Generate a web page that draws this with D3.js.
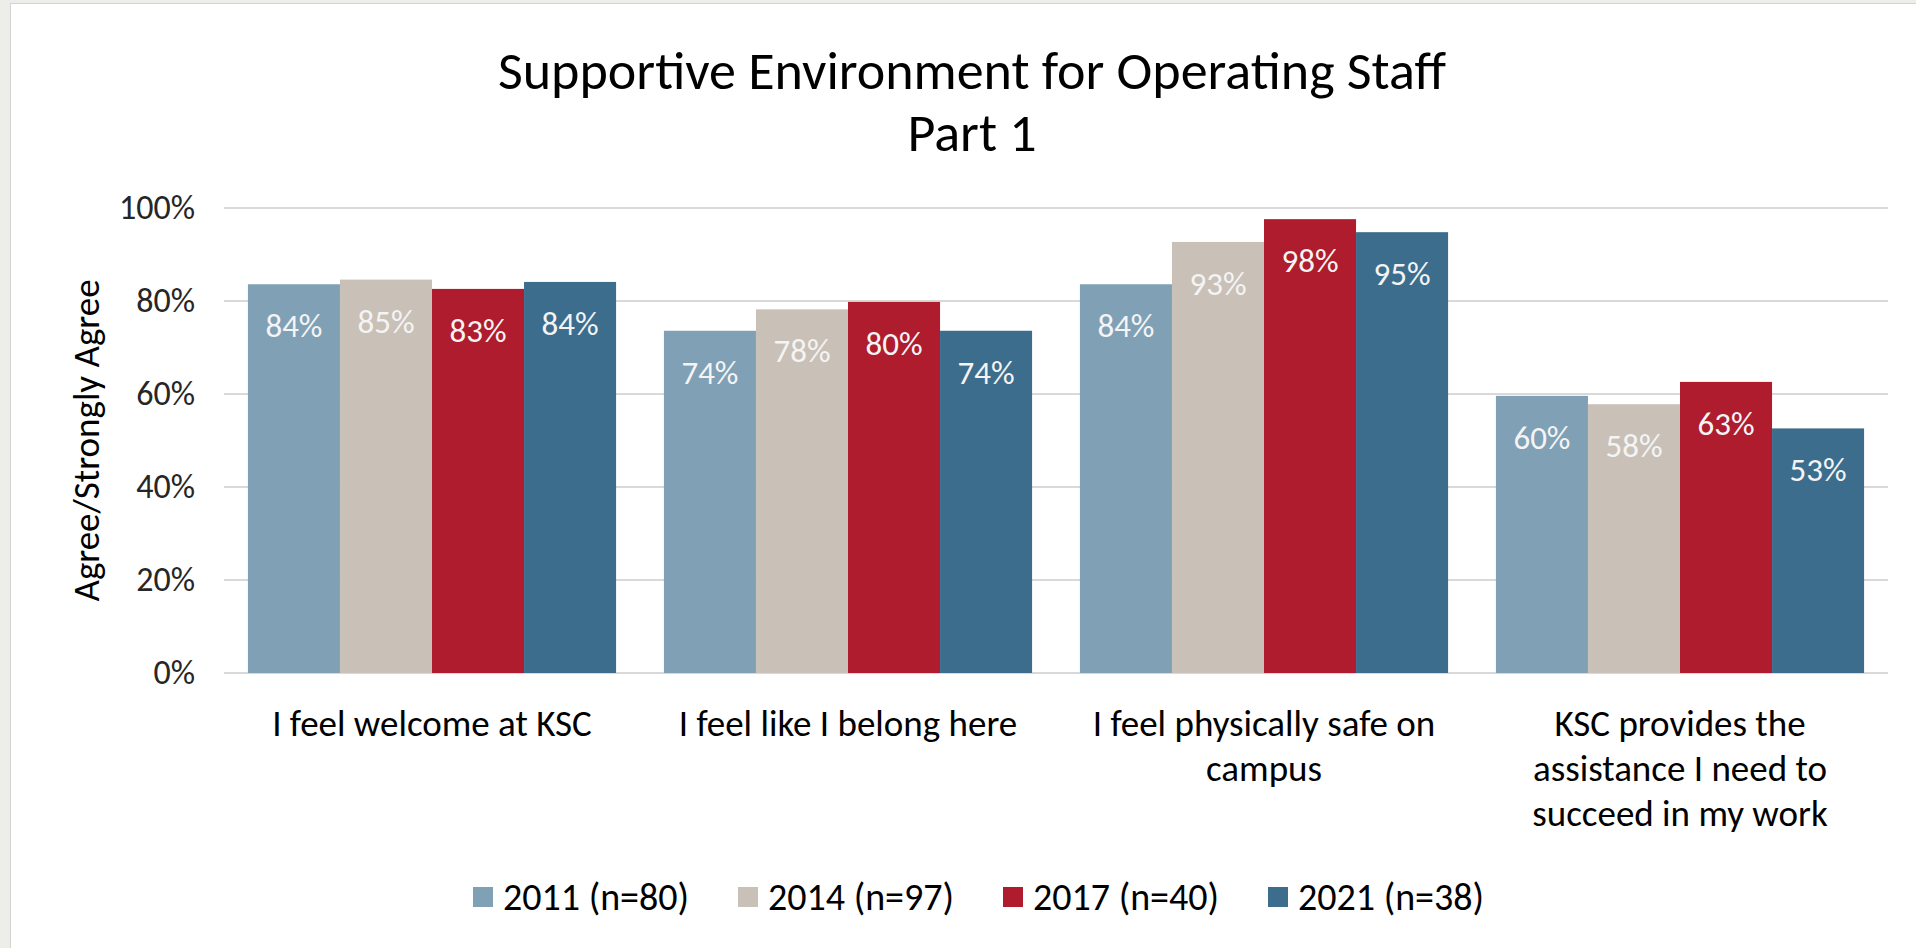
<!DOCTYPE html>
<html>
<head>
<meta charset="utf-8">
<script src="https://cdn.jsdelivr.net/npm/d3@7"></script>
<style>
  html, body { margin: 0; padding: 0; background: #ededea; }
  svg { display: block; }
</style>
</head>
<body>
<div id="chart"></div>
<script>
// data
const categories = [
    ["I feel welcome at KSC"],
    ["I feel like I belong here"],
    ["I feel physically safe on", "campus"],
    ["KSC provides the", "assistance I need to", "succeed in my work"]
];
const seriesNames = ["2011 (n=80)", "2014 (n=97)", "2017 (n=40)", "2021 (n=38)"];
const values2011 = [0.836, 0.736, 0.836, 0.596];
const values2014 = [0.846, 0.782, 0.927, 0.578];
const values2017 = [0.826, 0.798, 0.976, 0.626];
const values2021 = [0.841, 0.736, 0.948, 0.526];
const yTicks = [0, 0.2, 0.4, 0.6, 0.8, 1.0];
const colors = ["#80a0b6", "#c9c0b7", "#ae1c2d", "#3c6d8d"];

const series = [values2011, values2014, values2017, values2021];
const catKeys = categories.map(c => c.join(" "));

const W = 1916, H = 948;
const font = "Carlito, Calibri, Lato, sans-serif";
const plot = {left: 224, right: 1888, top: 208, bottom: 673};

const svg = d3.select("#chart").append("svg")
    .attr("width", W)
    .attr("height", H);

// white chart area
svg.append("rect")
    .attr("x", 10.5).attr("y", 3.5)
    .attr("width", W).attr("height", H)
    .attr("fill", "#fff")
    .attr("stroke", "#d4d4d0");

const x0 = d3.scaleBand()
    .domain(catKeys)
    .range([plot.left, plot.right]);

const gap = x0.step() * 0.0575;
const x1 = d3.scaleBand()
    .domain(seriesNames)
    .range([gap, x0.bandwidth() - gap]);

const y = d3.scaleLinear()
    .domain([0, 1])
    .range([plot.bottom, plot.top]);

// gridlines
svg.append("g")
    .selectAll("line")
    .data(yTicks)
    .enter()
    .append("line")
    .attr("x1", plot.left)
    .attr("x2", plot.right)
    .attr("y1", d => y(d))
    .attr("y2", d => y(d))
    .attr("stroke", "#d9d9d9")
    .attr("stroke-width", 2);

// y axis labels
const yAxis = svg.append("g")
    .attr("transform", `translate(${plot.left - 29},0)`)
    .call(d3.axisLeft(y).tickValues(yTicks).tickFormat(d3.format(".0%")).tickSize(0).tickPadding(0));
yAxis.select(".domain").remove();
yAxis.selectAll("text")
    .style("font-family", font)
    .style("font-size", "34px")
    .attr("fill", "#262626");

svg.append("text")
    .attr("transform", `translate(86,${(plot.top + plot.bottom) / 2}) rotate(-90)`)
    .attr("text-anchor", "middle")
    .attr("dominant-baseline", "central")
    .style("font-family", font)
    .style("font-size", "37px")
    .attr("fill", "#000")
    .text("Agree/Strongly Agree");

// bars
const groups = svg.append("g")
    .selectAll("g")
    .data(catKeys)
    .enter()
    .append("g")
    .attr("transform", d => `translate(${x0(d)},0)`);

groups.each(function(cat, ci) {
    const g = d3.select(this);
    const rows = seriesNames.map((name, si) => ({name, si, v: series[si][ci]}));
    g.selectAll("rect")
        .data(rows)
        .enter()
        .append("rect")
        .attr("x", d => x1(d.name))
        .attr("width", x1.bandwidth())
        .attr("y", d => y(d.v))
        .attr("height", d => y(0) - y(d.v))
        .attr("fill", d => colors[d.si]);

    g.selectAll("text")
        .data(rows)
        .enter()
        .append("text")
        .attr("x", d => x1(d.name) + x1.bandwidth() / 2)
        .attr("y", d => y(d.v) + 42)
        .attr("text-anchor", "middle")
        .attr("dominant-baseline", "central")
        .style("font-family", font)
        .style("font-size", "33px")
        .attr("fill", "#f4f4f4")
        .text(d => Math.round(d.v * 100) + "%");
});

// category labels
const catLabels = svg.append("g")
    .selectAll("text")
    .data(categories)
    .enter()
    .append("text")
    .attr("x", (d, i) => x0(catKeys[i]) + x0.bandwidth() / 2)
    .attr("y", 723)
    .attr("text-anchor", "middle")
    .style("font-family", font)
    .style("font-size", "37px")
    .attr("fill", "#000");

catLabels.selectAll("tspan")
    .data(d => d)
    .enter()
    .append("tspan")
    .attr("x", function() { return d3.select(this.parentNode).attr("x"); })
    .attr("dy", (d, i) => i === 0 ? "0.35em" : "45px")
    .text(d => d);

// title, two lines
const title = svg.append("g")
    .style("font-family", font)
    .style("font-size", "54px")
    .attr("fill", "#000");
title.append("text").attr("x", 972).attr("y", 89).attr("text-anchor", "middle")
    .text("Supportive Environment for Operating Staff");
title.append("text").attr("x", 972).attr("y", 151).attr("text-anchor", "middle")
    .text("Part 1");

// legend
const legendX = [473, 738, 1003, 1268];
const legend = svg.append("g")
    .selectAll("g")
    .data(seriesNames)
    .enter()
    .append("g")
    .attr("transform", (d, i) => `translate(${legendX[i]},897)`);

legend.append("rect")
    .attr("x", 0)
    .attr("y", -10)
    .attr("width", 20)
    .attr("height", 20)
    .attr("fill", (d, i) => colors[i]);

legend.append("text")
    .attr("x", 30)
    .attr("y", 0)
    .attr("dominant-baseline", "central")
    .style("font-family", font)
    .style("font-size", "38px")
    .attr("fill", "#000")
    .text(d => d);
</script>
</body>
</html>
